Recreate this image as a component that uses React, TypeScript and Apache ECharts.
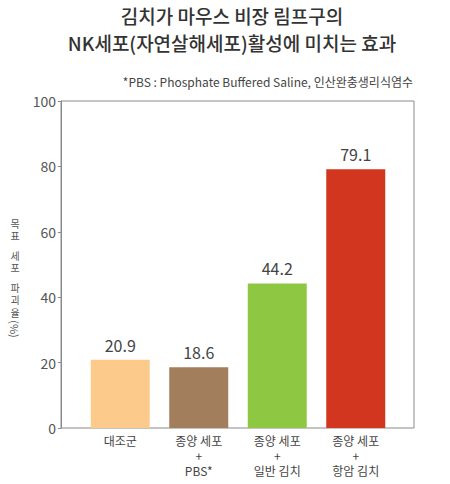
import React, { useEffect, useRef } from "react";
import * as echarts from "echarts";

const categories = ["대조군", "종양 세포\n+\nPBS*", "종양 세포\n+\n일반 김치", "종양 세포\n+\n항암 김치"];
const values = [20.9, 18.6, 44.2, 79.1];
const colors = ["#FCCB8B", "#A27E5D", "#8EC741", "#D2361F"];
const titleText = "김치가 마우스 비장 림프구의\nNK세포(자연살해세포)활성에 미치는 효과";
const noteText = "*PBS : Phosphate Buffered Saline, 인산완충생리식염수";

const FONT = "'Noto Sans CJK KR', 'Noto Sans', sans-serif";

export default function App() {
  const ref = useRef<HTMLDivElement>(null);
  useEffect(() => {
    if (!ref.current) return;
    document.body.style.margin = "0";
    const chart = echarts.init(ref.current, undefined, { renderer: "svg" });
    const nameStyle = { fontSize: 10, lineHeight: 12.5, fill: "#555", textAlign: "center", fontFamily: FONT };
    chart.setOption({
      animation: false,
      backgroundColor: "#ffffff",
      textStyle: { fontFamily: FONT },
      grid: [
        { left: 61, top: 101, width: 353, height: 327, show: true, borderColor: "#8a8a8a", borderWidth: 1, backgroundColor: "transparent" },
        { left: 81, top: 101, width: 314, height: 327 },
      ],
      xAxis: [
        { type: "value", gridIndex: 0, show: false, min: 0, max: 1 },
        {
          type: "category",
          gridIndex: 1,
          data: categories,
          axisLine: { show: false },
          axisTick: { show: false },
          axisLabel: { fontSize: 12, lineHeight: 15, color: "#444", margin: 5, fontFamily: FONT },
        },
      ],
      yAxis: [
        {
          type: "value",
          gridIndex: 0,
          min: 0,
          max: 100,
          interval: 20,
          axisLine: { show: true, lineStyle: { color: "#8a8a8a" } },
          axisTick: { show: true, length: 3, lineStyle: { color: "#8a8a8a" } },
          splitLine: { show: false },
          axisLabel: { fontSize: 14, color: "#555", margin: 5, fontFamily: FONT },
        },
        { type: "value", gridIndex: 1, min: 0, max: 100, show: false },
      ],
      series: [
        {
          type: "bar",
          xAxisIndex: 1,
          yAxisIndex: 1,
          barWidth: 59,
          data: values.map((v, i) => ({ value: v, itemStyle: { color: colors[i] } })),
          label: { show: true, position: "top", distance: 7, fontSize: 16, color: "#444", fontFamily: FONT },
        },
      ],
      graphic: [
        {
          type: "text",
          x: 232,
          y: 2,
          style: { text: titleText, fontSize: 19, fontWeight: 500, lineHeight: 27, fill: "#333", textAlign: "center", fontFamily: FONT },
        },
        {
          type: "text",
          right: 37,
          top: 75,
          style: { text: noteText, fontSize: 12, fill: "#444", fontFamily: FONT },
        },
        { type: "text", x: 15, y: 217, style: { ...nameStyle, text: "목\n표" } },
        { type: "text", x: 15, y: 249, style: { ...nameStyle, text: "세\n포" } },
        { type: "text", x: 15, y: 281, style: { ...nameStyle, text: "파\n괴\n율" } },
        {
          type: "text",
          x: 15,
          y: 329,
          rotation: -Math.PI / 2,
          style: { text: "(%)", fontSize: 11, fill: "#555", textAlign: "center", textVerticalAlign: "middle", fontFamily: FONT },
        },
      ],
    });
    return () => chart.dispose();
  }, []);
  return <div ref={ref} style={{ width: 450, height: 484 }} />;
}
